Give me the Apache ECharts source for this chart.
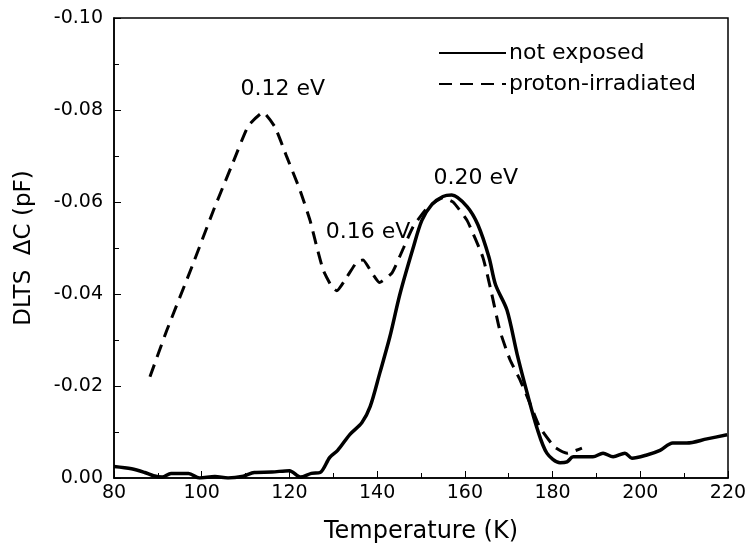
<!DOCTYPE html>
<html>
<head>
<meta charset="utf-8">
<script src="https://cdn.jsdelivr.net/npm/echarts@6/dist/echarts.min.js"></script>
<style>
  html, body { margin: 0; padding: 0; background: #fff; }
  #eChart { width: 750px; height: 551px; }
</style>
</head>
<body>
<div id="eChart"></div>
<script>
// not exposed (solid)
const tempSolid = [80, 84, 87, 89, 91, 93, 97, 99.5, 103, 106, 109.5, 112, 116, 120, 122.5, 125, 127,
  129.2, 131, 133.8, 136.5, 138.4, 140.6, 142.9, 145.2, 148.2, 150.2, 152.5, 155, 157, 160.5, 163,
  165.5, 167, 169.6, 171.9, 174.2, 176.4, 178.7, 181.7, 183.3, 184.7, 189.2, 191.5, 193.8, 196.5,
  198.1, 201.5, 204.5, 207.4, 210.6, 215.2, 219.8];
const dltsSolid = [-0.0025, -0.002, -0.0012, -0.0005, -0.0002, -0.001, -0.001, 0, -0.0003, 0, -0.0004,
  -0.0012, -0.0013, -0.0016, -0.0002, -0.001, -0.0012, -0.0045, -0.006, -0.0095, -0.012, -0.0155,
  -0.0228, -0.0307, -0.040, -0.050, -0.056, -0.0595, -0.0612, -0.0615, -0.059, -0.055, -0.048, -0.042,
  -0.0365, -0.027, -0.0185, -0.011, -0.0054, -0.0033, -0.0035, -0.0046, -0.0046, -0.0054, -0.0046,
  -0.0054, -0.0043, -0.005, -0.006, -0.0076, -0.0076, -0.0085, -0.0094];

// proton-irradiated (dashed)
const tempDashed = [88.2, 92, 97.8, 102.6, 107.1, 110.6, 114, 116.7, 119.4, 122.4, 124.7, 126.3, 127.7,
  129.7, 130.8, 133.1, 135.4, 136.8, 138.8, 140.5, 143.4, 146, 148.2, 151.4, 155, 157.3, 160.5, 164.1,
  165.9, 168, 170.3, 172.6, 174.8, 177.1, 180.5, 183.3, 186.7];
const dltsDashed = [-0.022, -0.032, -0.046, -0.058, -0.0685, -0.0765, -0.0795, -0.0763, -0.0698, -0.0626,
  -0.056, -0.050, -0.0452, -0.0415, -0.0407, -0.0437, -0.047, -0.0474, -0.0446, -0.0425, -0.0446, -0.050,
  -0.0546, -0.0587, -0.0609, -0.060, -0.056, -0.048, -0.041, -0.032, -0.0257, -0.0213, -0.0163, -0.011,
  -0.0067, -0.0054, -0.0065];

// peak labels
const peakLabels = ["0.12 eV", "0.16 eV", "0.20 eV"];
const peakTemps = [118.5, 137.9, 162.5];
const peakValues = [-0.0845, -0.0535, -0.0652];

const seriesNames = ["not exposed", "proton-irradiated"];

const font = "DejaVu Sans";
const zip = (xs, ys) => xs.map((x, i) => [x, ys[i]]);

const myChart = echarts.init(document.getElementById("eChart"), null, {
  renderer: "canvas",
});

const option = {
  animation: false,
  backgroundColor: "#fff",
  grid: {
    left: 114,
    right: 22,
    top: 18,
    bottom: 73,
    show: true,
    borderColor: "#000",
    borderWidth: 1.5,
  },
  legend: {
    left: 433,
    top: 37,
    orient: "vertical",
    itemWidth: 67,
    itemHeight: 14,
    itemGap: 9,
    itemStyle: { opacity: 0 },
    textStyle: { fontFamily: font, fontSize: 22, color: "#000", padding: [0, 0, 0, -2] },
    data: seriesNames,
  },
  xAxis: {
    type: "value",
    min: 80,
    max: 220,
    interval: 20,
    name: "Temperature (K)",
    nameLocation: "middle",
    nameGap: 42,
    nameTextStyle: { fontFamily: font, fontSize: 24, color: "#000" },
    axisLine: { lineStyle: { color: "#000", width: 1.5 } },
    axisTick: { inside: true, length: 7, lineStyle: { color: "#000", width: 1 } },
    minorTick: { show: true, splitNumber: 2, length: 5, lineStyle: { color: "#000", width: 1 } },
    axisLabel: { fontFamily: font, fontSize: 19, color: "#000", margin: 6 },
    splitLine: { show: false },
  },
  yAxis: {
    type: "value",
    inverse: true,
    min: -0.1,
    max: 0,
    interval: 0.02,
    name: "DLTS  \u0394C (pF)",
    nameLocation: "middle",
    nameGap: 78,
    nameTextStyle: { fontFamily: font, fontSize: 23, color: "#000" },
    axisLine: { lineStyle: { color: "#000", width: 1.5 } },
    axisTick: { inside: true, length: 7, lineStyle: { color: "#000", width: 1 } },
    minorTick: { show: true, splitNumber: 2, length: 5, lineStyle: { color: "#000", width: 1 } },
    axisLabel: {
      fontFamily: font,
      fontSize: 19,
      color: "#000",
      margin: 11,
      formatter: (v) => (Math.abs(v) < 1e-9 ? "0.00" : v.toFixed(2)),
    },
    splitLine: { show: false },
  },
  series: [
    {
      name: seriesNames[0],
      type: "line",
      symbol: "none",
      smooth: 0.3,
      data: zip(tempSolid, dltsSolid),
      itemStyle: { color: "#000" },
      lineStyle: { color: "#000", width: 3.5 },
    },
    {
      name: seriesNames[1],
      type: "line",
      symbol: "none",
      smooth: 0.15,
      data: zip(tempDashed, dltsDashed),
      itemStyle: { color: "#000" },
      lineStyle: { color: "#000", width: 3, type: [13, 8] },
      markPoint: {
        symbol: "circle",
        symbolSize: 1,
        itemStyle: { color: "rgba(0,0,0,0)" },
        label: {
          show: true,
          position: "inside",
          formatter: "{b}",
          fontFamily: font,
          fontSize: 22,
          color: "#000",
        },
        data: peakLabels.map((name, i) => ({ name, coord: [peakTemps[i], peakValues[i]] })),
      },
    },
  ],
};

myChart.setOption(option);
</script>
</body>
</html>
